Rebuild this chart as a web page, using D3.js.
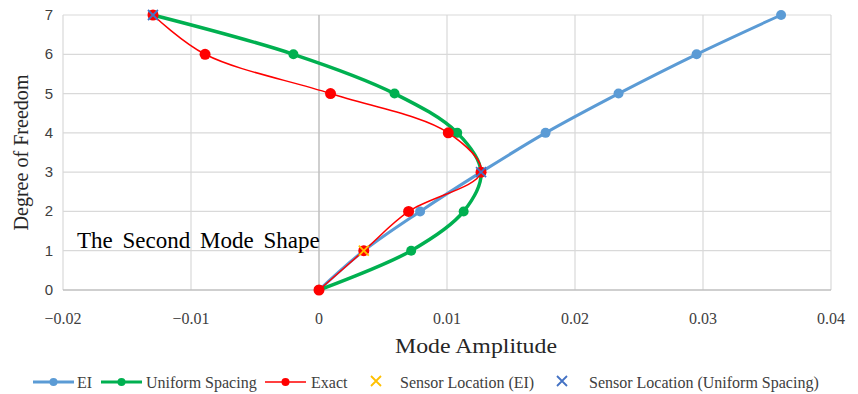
<!DOCTYPE html>
<html>
<head>
<meta charset="utf-8">
<script src="https://cdn.jsdelivr.net/npm/d3@7"></script>
<style>
  body { margin: 0; background: #fff; }
  svg { display: block; }
</style>
</head>
<body>
<div id="chart"></div>
<script>
// degree of freedom (y) shared by all series
const dof = [0, 1, 2, 3, 4, 5, 6, 7];
const eiValues = [0, 0.0035, 0.0079, 0.01266, 0.0177, 0.0234, 0.0295, 0.0361];
const uniformValues = [0, 0.0072, 0.0113, 0.01266, 0.0108, 0.0059, -0.0020, -0.01297];
const exactValues = [0, 0.0035, 0.0070, 0.01266, 0.0101, 0.0009, -0.0089, -0.01297];
const sensorEI = [[0.0035, 1]];
const sensorUniform = [[0.01266, 3], [-0.01297, 7]];
const xTicks = [-0.02, -0.01, 0, 0.01, 0.02, 0.03, 0.04];
const yTicks = [0, 1, 2, 3, 4, 5, 6, 7];

const W = 858, H = 394;
const m = { left: 63, right: 27, top: 15, bottom: 104 };
const serif = 'Liberation Serif, Times New Roman, serif';

const svg = d3.select('#chart').append('svg')
  .attr('width', W)
  .attr('height', H);

const x = d3.scaleLinear().domain([-0.02, 0.04]).range([m.left, W - m.right]);
const y = d3.scaleLinear().domain([0, 7]).range([H - m.bottom, m.top]);

//Gridlines
svg.append('g').selectAll('line')
  .data(yTicks.filter(d => d > 0))
  .enter().append('line')
  .attr('x1', x(-0.02)).attr('x2', x(0.04))
  .attr('y1', d => y(d)).attr('y2', d => y(d))
  .attr('stroke', '#d9d9d9').attr('stroke-width', 1.2);

svg.append('g').selectAll('line')
  .data(xTicks.filter(d => d !== 0))
  .enter().append('line')
  .attr('x1', d => x(d)).attr('x2', d => x(d))
  .attr('y1', y(0)).attr('y2', y(7))
  .attr('stroke', '#d9d9d9').attr('stroke-width', 1.2);

// zero axis and bottom axis
svg.append('line')
  .attr('x1', x(0)).attr('x2', x(0))
  .attr('y1', y(0)).attr('y2', y(7))
  .attr('stroke', '#bfbfbf').attr('stroke-width', 1.5);
svg.append('line')
  .attr('x1', x(-0.02)).attr('x2', x(0.04))
  .attr('y1', y(0)).attr('y2', y(0))
  .attr('stroke', '#bfbfbf').attr('stroke-width', 1.5);

// tick labels
svg.append('g').selectAll('text')
  .data(yTicks)
  .enter().append('text')
  .attr('x', 53).attr('y', d => y(d) + 5)
  .attr('text-anchor', 'end')
  .attr('font-family', 'Liberation Sans, Arial, sans-serif')
  .attr('font-size', 15)
  .attr('fill', '#404040')
  .text(d => d);

svg.append('g').selectAll('text')
  .data(xTicks)
  .enter().append('text')
  .attr('x', d => x(d)).attr('y', 324)
  .attr('text-anchor', 'middle')
  .attr('font-family', serif)
  .attr('font-size', 16)
  .attr('fill', '#404040')
  .text(d => d3.format('')(d));

// axis titles
svg.append('text')
  .attr('x', 476).attr('y', 353)
  .attr('text-anchor', 'middle')
  .attr('font-family', serif)
  .attr('font-size', 21)
  .attr('textLength', 162)
  .attr('lengthAdjust', 'spacingAndGlyphs')
  .attr('fill', '#262626')
  .text('Mode Amplitude');

svg.append('text')
  .attr('transform', 'translate(28,' + y(3.5) + ') rotate(-90)')
  .attr('text-anchor', 'middle')
  .attr('font-family', serif)
  .attr('font-size', 20)
  .attr('textLength', 156)
  .attr('lengthAdjust', 'spacingAndGlyphs')
  .attr('fill', '#262626')
  .text('Degree of Freedom');

svg.append('text')
  .attr('x', 77).attr('y', 248)
  .attr('font-family', serif)
  .attr('font-size', 23)
  .attr('word-spacing', 4)
  .attr('fill', '#000')
  .text('The Second Mode Shape');

// series
const series = [
  { name: 'EI', values: eiValues, color: '#5B9BD5', width: 3, r: 5 },
  { name: 'Uniform Spacing', values: uniformValues, color: '#00B050', width: 3.5, r: 5 },
  { name: 'Exact', values: exactValues, color: '#FF0000', width: 1.5, r: 5.5 }
];

const line = d3.line()
  .x(d => x(d[0]))
  .y(d => y(d[1]))
  .curve(d3.curveCatmullRom.alpha(0.5));

series.forEach(s => {
  const pts = s.values.map((v, i) => [v, dof[i]]);
  svg.append('path')
    .datum(pts)
    .attr('fill', 'none')
    .attr('stroke', s.color)
    .attr('stroke-width', s.width)
    .attr('d', line);
  svg.append('g').selectAll('circle')
    .data(pts)
    .enter().append('circle')
    .attr('cx', d => x(d[0]))
    .attr('cy', d => y(d[1]))
    .attr('r', s.r)
    .attr('fill', s.color);
});

function drawX(g, cx, cy, color) {
  const k = 5;
  g.append('path')
    .attr('d', `M${cx - k},${cy - k}L${cx + k},${cy + k}M${cx - k},${cy + k}L${cx + k},${cy - k}`)
    .attr('stroke', color)
    .attr('stroke-width', 1.8)
    .attr('fill', 'none');
}

sensorEI.forEach(d => drawX(svg, x(d[0]), y(d[1]), '#FFC000'));
sensorUniform.forEach(d => drawX(svg, x(d[0]), y(d[1]), '#4472C4'));

// legend
const leg = svg.append('g')
  .attr('font-family', serif)
  .attr('font-size', 16)
  .attr('fill', '#404040');
const ly = 382;
const legendItems = [
  { label: 'EI', color: '#5B9BD5', x0: 33, w: 3, tx: 77 },
  { label: 'Uniform Spacing', color: '#00B050', x0: 101, w: 3, tx: 146 },
  { label: 'Exact', color: '#FF0000', x0: 265, w: 1.5, tx: 311 }
];
legendItems.forEach(it => {
  leg.append('line')
    .attr('x1', it.x0).attr('x2', it.x0 + 41)
    .attr('y1', ly).attr('y2', ly)
    .attr('stroke', it.color).attr('stroke-width', it.w);
  leg.append('circle')
    .attr('cx', it.x0 + 20.5).attr('cy', ly).attr('r', 4)
    .attr('fill', it.color);
  leg.append('text').attr('x', it.tx).attr('y', ly + 6).text(it.label);
});
drawX(leg, 376, ly - 1, '#FFC000');
leg.append('text').attr('x', 400).attr('y', ly + 6).text('Sensor Location (EI)');
drawX(leg, 562, ly - 1, '#4472C4');
leg.append('text').attr('x', 589).attr('y', ly + 6).text('Sensor Location (Uniform Spacing)');
</script>
</body>
</html>
